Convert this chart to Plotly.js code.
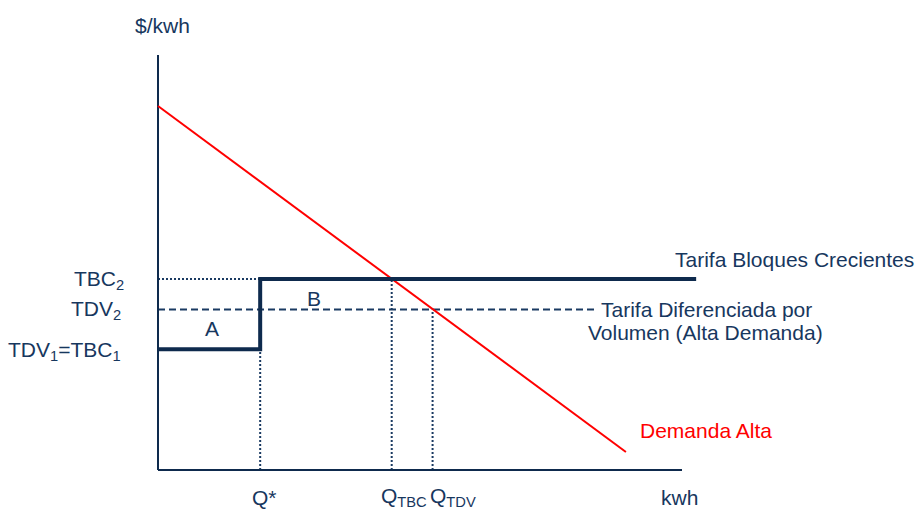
<!DOCTYPE html>
<html>
<head>
<meta charset="utf-8">
<script src="https://cdn.plot.ly/plotly-3.0.1.min.js"></script>
<style>html,body{margin:0;padding:0;background:#fff;}#chart{width:922px;height:510px;}</style>
</head>
<body>
<div id="chart"></div>
<script>
// ---- data (x: kwh units, y: $/kwh units) ----
const axisMaxX = 100;
const axisMaxY = 100;
const Q_STAR = 19.5;
const Q_TBC = 44.6;
const Q_TDV = 52.4;
const TBC1 = 29.1;          // = TDV1
const TDV2 = 38.7;
const TBC2 = 46.0;
const blockEndX = 102.7;
const tdvEndX = 83.6;
const demandX = [0, 89.3];
const demandY = [87.7, 4.34];
const blockX = [0, Q_STAR, Q_STAR, blockEndX];
const blockY = [TBC1, TBC1, TBC2, TBC2];
const yLabels = ['TBC<sub>2</sub>', 'TDV<sub>2</sub>', 'TDV<sub>1</sub>=TBC<sub>1</sub>'];
const yLabelVals = [TBC2, TDV2, TBC1];
const xLabels = ['Q*', 'Q<sub>TBC</sub>', 'Q<sub>TDV</sub>'];
const xLabelVals = [Q_STAR, Q_TBC, Q_TDV];

const NAVY = '#17375e';
const DARK = '#0e2a4d';
const RED = '#ff0000';
const FONT = 'Liberation Sans, Arial, sans-serif';

const dotted = {color: '#1a3a62', width: 2, dash: '2px,2px'};

const traces = [
  // dotted guides
  {x: [0, Q_STAR], y: [TBC2, TBC2], mode: 'lines', line: dotted},
  {x: [Q_STAR, Q_STAR], y: [0, TBC1], mode: 'lines', line: dotted},
  {x: [Q_TBC, Q_TBC], y: [0, TBC2], mode: 'lines', line: dotted},
  {x: [Q_TDV, Q_TDV], y: [0, TDV2], mode: 'lines', line: dotted},
  // dashed TDV2 tariff
  {x: [0, tdvEndX], y: [TDV2, TDV2], mode: 'lines', line: {color: '#1a3a62', width: 2, dash: '7px,4px'}},
  // axes
  {x: [0, 0], y: [0, axisMaxY], mode: 'lines', line: {color: DARK, width: 2}},
  {x: [0, axisMaxX], y: [0, 0], mode: 'lines', line: {color: DARK, width: 2}},
  // demand
  {x: demandX, y: demandY, mode: 'lines', line: {color: RED, width: 2}},
  // increasing block tariff
  {x: blockX, y: blockY, mode: 'lines', line: {color: DARK, width: 4}}
];

const pxPerX = 5.24, pxPerY = 4.15;
const ann = [];
function A(o) { ann.push(Object.assign({xref: 'x', yref: 'y', showarrow: false, font: {family: FONT, size: 21, color: NAVY}}, o)); }

A({text: '$/kwh', x: 0, y: axisMaxY, xanchor: 'center', yanchor: 'middle', xshift: 4, yshift: 30});
const yShifts = [[-32, -1], [-35, -1], [-35, -2]];
yLabels.forEach((t, i) => A({text: t, x: 0, y: yLabelVals[i], xanchor: 'right', yanchor: 'middle', xshift: yShifts[i][0], yshift: yShifts[i][1]}));
A({text: 'A', x: Q_STAR / 2, y: (TBC1 + TDV2) / 2, xanchor: 'center', yanchor: 'middle', xshift: 3, yshift: 1});
A({text: 'B', x: (Q_STAR + Q_TBC) / 2, y: (TDV2 + TBC2) / 2, xanchor: 'center', yanchor: 'middle', xshift: -12, yshift: -4});
A({text: 'Tarifa Bloques Crecientes', x: blockEndX, y: TBC2, xanchor: 'left', yanchor: 'middle', xshift: -23, yshift: 20});
A({text: 'Tarifa Diferenciada por', x: tdvEndX, y: TDV2, xanchor: 'center', yanchor: 'middle', xshift: 110, yshift: 0});
A({text: 'Volumen (Alta Demanda)', x: tdvEndX, y: TDV2, xanchor: 'center', yanchor: 'middle', xshift: 109, yshift: -23});
A({text: 'Demanda Alta', x: demandX[1], y: demandY[1], xanchor: 'left', yanchor: 'middle', xshift: 12, yshift: 21, font: {family: FONT, size: 21, color: RED}});
const xShifts = [[4, 'center'], [-13, 'left'], [-5, 'left']];
xLabels.forEach((t, i) => A({text: t, x: xLabelVals[i], y: 0, xanchor: xShifts[i][1], yanchor: 'middle', xshift: xShifts[i][0], yshift: -27}));
A({text: 'kwh', x: axisMaxX, y: 0, xanchor: 'center', yanchor: 'middle', xshift: -3, yshift: -27});

const layout = {
  width: 922, height: 510,
  margin: {l: 0, r: 0, t: 0, b: 0},
  paper_bgcolor: '#ffffff', plot_bgcolor: '#ffffff',
  showlegend: false,
  xaxis: {range: [-158 / pxPerX, (922 - 158) / pxPerX], visible: false, fixedrange: true},
  yaxis: {range: [(470 - 510) / pxPerY, 470 / pxPerY], visible: false, fixedrange: true},
  annotations: ann
};

Plotly.newPlot('chart', traces.map(t => Object.assign({type: 'scatter', hoverinfo: 'skip', cliponaxis: false}, t)), layout, {staticPlot: true, displayModeBar: false});
</script>
</body>
</html>
